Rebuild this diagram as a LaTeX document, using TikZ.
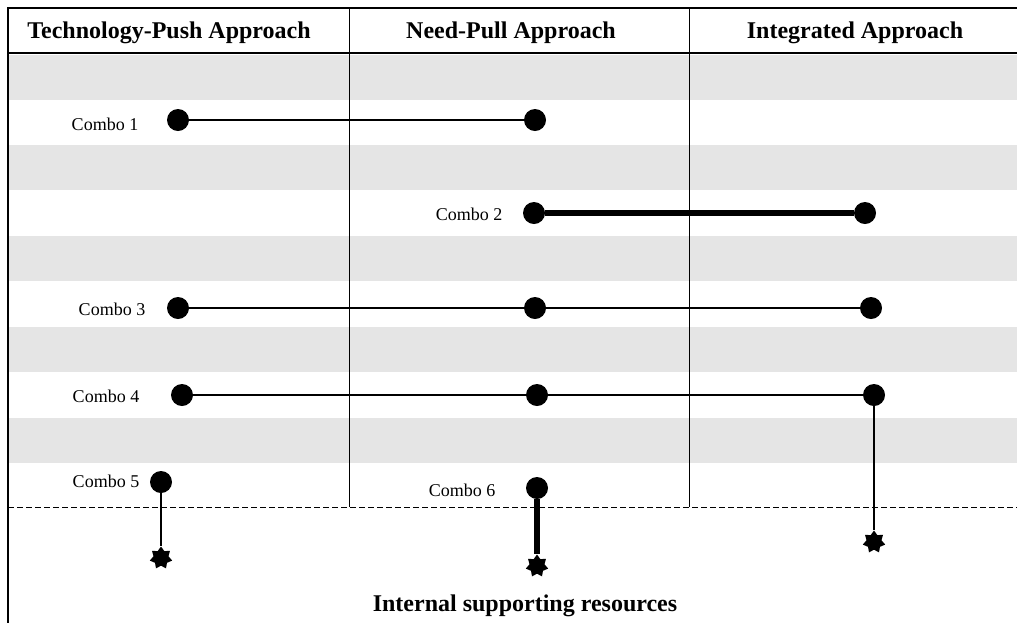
\documentclass[tikz,border=0pt]{standalone}
\usepackage{fontspec}
\setmainfont{Liberation Serif}
\usetikzlibrary{shapes.geometric}
\tikzset{
  dot/.style={circle,fill=black,inner sep=0pt,minimum size=11pt},
  res/.style={star,star points=7,star point ratio=1.5,fill=black,inner sep=0pt,minimum size=11.5pt},
  combo/.style={font=\fontsize{9}{11}\selectfont},
  head/.style={font=\fontsize{12}{14}\selectfont\bfseries},
  link/.style={line width=1pt},
  strong/.style={line width=2.6pt},
  stripe/.style={fill=black!10,draw=none},
}
\begin{document}
\begin{tikzpicture}[x=0.5pt,y=-0.5pt]
\useasboundingbox (0,0) rectangle (1017,623);
%stripes
\foreach \y in {55,145,236,327,418}
  \fill[stripe] (9,\y) rectangle (1017,\y+45);
%grid
\draw[line width=0.6pt] (1017,8) -- (8,8) -- (8,623);
\draw[line width=0.6pt] (8,53) -- (1017,53);
\draw[line width=0.5pt] (349,8) -- (349,507);
\draw[line width=0.5pt] (689,8) -- (689,507);
\draw[line width=0.5pt,dash pattern=on 3pt off 1.5pt] (8,507) -- (1017,507);
%headers
\node[head] (tp) at (169,33) {Technology-Push Approach};
\node[head] (np) at (511,33) {Need-Pull Approach};
\node[head] (ia) at (855,33) {Integrated Approach};
%combo 1
\node[combo] (l1) at (105,124) {Combo 1};
\node[dot] (c1a) at (178,120) {};
\node[dot] (c1b) at (535,120) {};
\draw[link] (c1a) -- (c1b);
%combo 2
\node[combo] (l2) at (469,214) {Combo 2};
\node[dot] (c2a) at (534,213) {};
\node[dot] (c2b) at (865,213) {};
\draw[strong] (c2a) -- (c2b);
%combo 3
\node[combo] (l3) at (112,309) {Combo 3};
\node[dot] (c3a) at (178,308) {};
\node[dot] (c3b) at (535,308) {};
\node[dot] (c3c) at (871,308) {};
\draw[link] (c3a) -- (c3b) -- (c3c);
%combo 4
\node[combo] (l4) at (106,396) {Combo 4};
\node[dot] (c4a) at (182,395) {};
\node[dot] (c4b) at (537,395) {};
\node[dot] (c4c) at (874,395) {};
\node[res] (r4) at (874,542) {};
\draw[link] (c4a) -- (c4b) -- (c4c) -- (r4);
%combo 5
\node[combo] (l5) at (106,481) {Combo 5};
\node[dot] (c5) at (161,482) {};
\node[res] (r5) at (161,558) {};
\draw[link] (c5) -- (r5);
%combo 6
\node[combo] (l6) at (462,490) {Combo 6};
\node[dot] (c6) at (537,488) {};
\node[res] (r6) at (537,566) {};
\draw[strong] (c6) -- (r6);
%notes
\node[head] (isr) at (525,606) {Internal supporting resources};
\end{tikzpicture}
\end{document}
